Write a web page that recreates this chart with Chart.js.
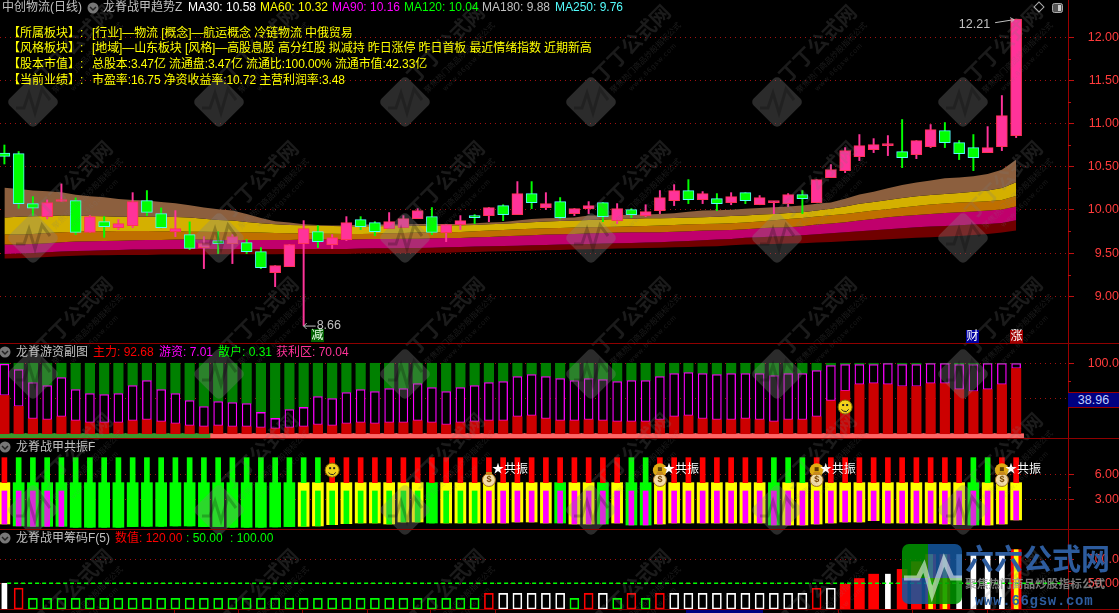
<!DOCTYPE html>
<html>
<head>
<meta charset="utf-8">
<title>中创物流(日线)</title>
<script src="https://cdn.jsdelivr.net/npm/chart.js@4/dist/chart.umd.js"></script>
<style>
html, body { margin: 0; background: #000; overflow: hidden; }
#stage { position: relative; width: 1119px; height: 613px; background: #000; overflow: hidden; }
#stage canvas, #stage svg { position: absolute; left: 0; }
.rotulo { position: absolute; white-space: nowrap; transform: translateY(-50%); font: 12px "Liberation Sans", "Noto Sans CJK SC", sans-serif; line-height: 14px; }
.raya { position: absolute; left: 0; width: 1119px; height: 1px; background: #8f0000; }
.caja { position: absolute; text-align: center; font: 12px "Liberation Sans", "Noto Sans CJK SC", sans-serif; }
</style>
</head>
<body>
<div id="stage">
  <canvas id="panelVelas" width="1119" height="343" style="top:0"></canvas>
  <canvas id="panelFlujos" width="1119" height="94" style="top:344px"></canvas>
  <canvas id="panelResonancia" width="1119" height="90" style="top:439px"></canvas>
  <canvas id="panelChips" width="1119" height="79" style="top:530px"></canvas>
</div>
<script>
// velas diarias
const candleOpen = [10.659,10.653,10.073,9.922,10.097,10.108,9.74,9.864,9.795,9.818,10.108,9.957,9.748,9.714,9.563,9.644,9.61,9.621,9.517,9.273,9.343,9.61,9.748,9.598,9.656,9.888,
  9.853,9.783,9.795,9.899,9.922,9.737,9.83,9.934,9.934,10.05,9.946,10.189,10.027,10.096,9.957,10.015,10.085,9.876,10.004,9.934,9.992,10.108,10.224,10.12,10.131,10.085,
  10.2,10.06,10.085,10.073,10.177,10.085,10.374,10.455,10.618,10.699,10.745,10.676,10.641,10.734,10.919,10.78,10.722,10.664,10.734,10.861];
const candleClose = [10.621,10.073,10.019,10.085,10.104,9.74,9.922,9.806,9.841,10.096,9.972,9.795,9.783,9.555,9.61,9.61,9.69,9.517,9.331,9.354,9.598,9.783,9.632,9.679,9.853,9.806,
  9.748,9.864,9.899,9.992,9.74,9.83,9.876,9.91,10.027,9.946,10.189,10.085,10.073,9.91,10.015,10.05,9.922,10.015,9.946,9.98,10.143,10.224,10.12,10.189,10.073,10.154,
  10.108,10.143,10.096,10.177,10.131,10.351,10.467,10.687,10.745,10.757,10.757,10.606,10.803,10.931,10.78,10.652,10.606,10.722,11.093,12.21];
const candleHigh = [10.752,10.676,10.154,10.116,10.301,10.139,9.934,9.922,9.888,10.2,10.224,10.023,9.992,9.861,9.69,9.748,9.714,9.656,9.563,9.354,9.598,9.876,9.818,9.714,9.922,9.922,
  9.864,9.969,9.934,10.015,10.027,9.83,9.934,9.946,10.027,10.06,10.328,10.328,10.2,10.143,10.015,10.096,10.085,10.073,10.015,10.06,10.224,10.293,10.351,10.212,10.189,10.2,
  10.2,10.166,10.096,10.189,10.224,10.351,10.525,10.722,10.873,10.826,10.861,11.047,10.803,10.989,11.012,10.803,10.873,10.965,11.325,12.21];
const candleLow = [10.532,10.019,9.934,9.896,10.097,9.714,9.74,9.682,9.772,9.795,9.934,9.791,9.69,9.54,9.32,9.494,9.378,9.494,9.32,9.111,9.343,8.66,9.563,9.552,9.644,9.772,
  9.702,9.783,9.795,9.899,9.714,9.632,9.772,9.841,9.864,9.876,9.946,10.015,10.004,9.899,9.934,9.957,9.864,9.841,9.91,9.922,9.957,10.05,10.073,10.073,9.992,10.06,
  10.073,10.06,9.957,10.038,9.957,10.085,10.374,10.432,10.571,10.664,10.629,10.49,10.594,10.722,10.722,10.583,10.455,10.664,10.687,10.838];

// cintas de medias moviles
const ma30 = [10.258,10.243,10.224,10.216,10.204,10.177,10.158,10.146,10.127,10.115,10.108,10.092,10.077,10.054,10.027,10.007,9.992,9.953,9.907,9.868,9.853,9.833,9.826,9.818,9.818,9.83,
  9.83,9.83,9.83,9.837,9.837,9.837,9.837,9.845,9.853,9.861,9.876,9.895,9.903,9.907,9.911,9.934,9.934,9.942,9.942,9.946,9.953,9.961,9.98,9.992,9.996,10.003,
  10.012,10.023,10.031,10.039,10.05,10.07,10.085,10.128,10.178,10.209,10.251,10.29,10.317,10.34,10.367,10.375,10.39,10.417,10.464,10.58];
const ma60 = [9.911,9.922,9.926,9.93,9.934,9.934,9.93,9.926,9.922,9.922,9.922,9.922,9.918,9.911,9.899,9.884,9.876,9.861,9.845,9.834,9.826,9.822,9.818,9.814,9.81,9.81,
  9.81,9.814,9.814,9.818,9.818,9.822,9.822,9.826,9.834,9.841,9.849,9.857,9.865,9.872,9.876,9.884,9.888,9.895,9.899,9.903,9.903,9.907,9.911,9.915,9.922,9.93,
  9.934,9.946,9.954,9.965,9.973,9.992,10.012,10.039,10.07,10.093,10.116,10.139,10.158,10.174,10.185,10.197,10.209,10.224,10.255,10.32];
const ma90 = [9.714,9.714,9.721,9.733,9.741,9.748,9.752,9.752,9.756,9.756,9.756,9.752,9.752,9.748,9.748,9.745,9.745,9.741,9.737,9.733,9.729,9.729,9.725,9.725,9.721,9.721,
  9.725,9.729,9.733,9.737,9.741,9.741,9.745,9.752,9.76,9.768,9.776,9.783,9.787,9.791,9.795,9.799,9.803,9.806,9.81,9.814,9.818,9.826,9.834,9.837,9.841,9.845,
  9.853,9.865,9.88,9.896,9.907,9.923,9.938,9.954,9.973,9.992,10.008,10.027,10.046,10.062,10.073,10.085,10.093,10.1,10.116,10.16];
const ma120 = [9.598,9.598,9.606,9.613,9.625,9.633,9.636,9.64,9.644,9.648,9.652,9.652,9.656,9.656,9.656,9.652,9.652,9.652,9.652,9.652,9.652,9.656,9.656,9.656,9.656,9.66,
  9.663,9.663,9.667,9.667,9.671,9.675,9.675,9.683,9.687,9.694,9.702,9.706,9.714,9.718,9.721,9.729,9.733,9.737,9.741,9.741,9.741,9.748,9.752,9.76,9.764,9.768,
  9.776,9.788,9.795,9.799,9.811,9.83,9.842,9.857,9.876,9.896,9.915,9.93,9.942,9.954,9.965,9.973,9.981,9.992,10.004,10.04];
const ma180 = [9.49,9.494,9.501,9.509,9.517,9.525,9.528,9.532,9.536,9.54,9.54,9.544,9.548,9.548,9.548,9.548,9.548,9.548,9.548,9.548,9.548,9.548,9.548,9.548,9.548,9.552,
  9.555,9.555,9.559,9.559,9.563,9.567,9.571,9.575,9.579,9.582,9.586,9.59,9.594,9.598,9.602,9.606,9.61,9.613,9.617,9.621,9.625,9.633,9.64,9.648,9.656,9.663,
  9.676,9.683,9.691,9.699,9.706,9.718,9.73,9.741,9.753,9.764,9.776,9.788,9.799,9.807,9.815,9.822,9.83,9.838,9.849,9.88];
const ma250 = [9.436,9.44,9.447,9.455,9.463,9.47,9.474,9.474,9.478,9.478,9.478,9.482,9.482,9.482,9.482,9.486,9.486,9.486,9.486,9.486,9.49,9.49,9.49,9.49,9.49,9.494,
  9.494,9.498,9.498,9.502,9.505,9.505,9.509,9.513,9.517,9.521,9.525,9.528,9.532,9.536,9.54,9.544,9.548,9.552,9.555,9.559,9.563,9.567,9.571,9.575,9.579,9.59,
  9.598,9.602,9.606,9.61,9.614,9.621,9.629,9.637,9.645,9.652,9.66,9.668,9.676,9.683,9.691,9.699,9.71,9.722,9.737,9.76];

// panel de flujos: 主力 / 游资 / 散户
const flowMain = [54.2,38.7,21.2,19.8,24.1,18.4,15.6,15.6,15.6,18.4,19.8,17,14.2,11.3,9.9,11.3,9.9,9.9,8.5,7.1,8.5,9.9,12.7,11.3,14.2,15.6,14.2,15.6,
  15.6,18.4,15.6,12.7,15.6,17,18.4,18.4,24.1,25.5,21.2,18.4,18.4,19.8,18.4,17,17,17,19.8,24.1,25.5,21.2,19.8,19.8,21.2,19.8,17,19.8,
  19.8,24.1,46.7,60.8,69.8,71.2,69.8,67,67,71.2,71.2,62.7,59.9,62.7,69.8,92.68];
const flowHot = [44.4,52.3,51.4,48.6,55.6,44.3,41.5,40.1,41.5,50,55.7,45.7,42.9,35.9,28.8,34.5,34.4,33,21.7,14.6,25.9,27.4,40.1,38.7,44.3,47.1,45.7,48.6,
  48.6,52.8,50,47.2,50,51.4,54.2,55.7,57,58.5,59.9,59.9,57.1,58.5,58.5,57.1,58.5,58.5,61.3,61.3,61.3,64.2,64.2,65.6,64.2,65.6,65.5,65.6,
  65.6,65.5,50,37.3,28.3,26.9,29.7,31.1,31.1,28.3,28.3,35.4,38.2,36.8,29.7,7.01];
const flowRetail = [1.4,9,27.4,31.6,20.3,37.3,42.9,44.3,42.9,31.6,24.5,37.3,42.9,52.8,61.3,54.2,55.7,57.1,69.8,78.3,65.6,62.7,47.2,50,41.5,37.3,40.1,35.8,
  35.8,28.8,34.4,40.1,34.4,31.6,27.4,25.9,18.9,16,18.9,21.7,24.5,21.7,23.1,25.9,24.5,24.5,18.9,14.6,13.2,14.6,16,14.6,14.6,14.6,17.5,14.6,
  14.6,10.4,3.3,1.9,1.9,1.9,0.5,1.9,1.9,0.5,0.5,1.9,1.9,0.5,0.5,0.31];
const profitZone = ('g'.repeat(15) + 'r'.repeat(57)).split('');
const profitZoneRange = [-6.1, 0];

// panel de resonancia
const resonanceFloor = [0.035,-0.2,-0.25,-0.25,-0.25,-0.36,-0.36,-0.36,-0.36,-0.28,-0.25,-0.25,-0.2,-0.2,-0.28,-0.28,-0.36,-0.36,-0.36,-0.32,-0.28,-0.25,-0.2,-0.045,0.075,0.155,0.155,0.035,
  0.275,0.275,0.155,0.155,0.155,0.155,0.155,0.155,0.275,0.275,0.155,0.155,0.035,0.035,0.035,0.155,-0.085,-0.085,0.035,0.155,0.155,0.155,0.155,0.155,0.155,0.155,-0.085,-0.085,
  -0.085,0.035,0.155,0.275,0.275,0.44,0.155,0.155,0.155,0.155,0.035,-0.045,-0.085,-0.085,0.035,0.52];
const resonanceTop = ('r' + 'g'.repeat(22) + 'r'.repeat(21) + 'gg' + 'r'.repeat(8) + 'ggg' + 'r'.repeat(11) + 'gg' + 'rr').split('');
const resonanceOuter = ('y' + 'g'.repeat(20) + 'y'.repeat(9) + 'g' + 'y'.repeat(8) + 'g' + 'yy' + 'g' + 'y' + 'gg' + 'y'.repeat(8) + 'g' + 'y'.repeat(13) + 'g' + 'yyy').split('');
const resonanceInner = ('m'.repeat(5) + 'g'.repeat(29) + 'm'.repeat(38)).split('');
const resonanceLevels = [8, 5, 4];

// panel de chips
const chipValues = [50,40,
  18.5,18.5,18.5,18.5,18.5,18.5,18.5,18.5,
  18.5,18.5,18.5,18.5,18.5,18.5,18.5,18.5,
  18.5,18.5,18.5,18.5,18.5,18.5,18.5,18.5,
  18.5,18.5,18.5,18.5,18.5,18.5,18.5,18.5,
  29,29,29,29,29,29,18.5,29,29,18.5,29,18.5,29,29,29,29,29,29,29,29,29,29,29,39.6,39.6,48,60,69,69,79,95,110,110,110,110,110,110,120];
const chipKinds = ('wr' + 'g'.repeat(32) + 'rhhhhhgrhgrgr' + 'h'.repeat(10) + 'rh' + 'RRRwRRYYwwwwY').split('');
const chipBase = -3.54;
const chipRefLevel = [50];

// marcas
const highMark = { bar: 71, price: 12.21 };
const lowMark = { bar: 21, price: 8.66 };
const flowSmile = { bar: 59, value: 37.9 };
const resonanceSmile = { bar: 23, value: 6.5 };
const bagBars = [34, 46, 57, 70];
const coinBars = [46, 57, 70];
const bagLevel = 5.44;
const coinLevel = 6.5;
const starLevel = 6.67;

// ejes
const priceTicks = [12, 11.5, 11, 10.5, 10, 9.5, 9];
const priceMinor = [11.75, 11.25, 10.75, 10.25, 9.75, 9.25];
const flowTicks = [100, 50];
const flowMinor = [75];
const resonanceTicks = [6, 3];
const resonanceMinor = [4.5];
const chipTicks = [100, 50];
const chipMinor = [75];

const barIndex = candleOpen.map((_, i) => i);
const xMin = -0.309;
const xMax = 74.64;

const ROJO_LINEA = '#9a0000';
const ROJO_TEXTO = '#ff3b3b';
const TEXTO_GRIS = '#c0c0c0';

const marcasMenores = {
    id: 'marcasMenores',
    afterDraw(chart, args, opts) {
        const ctx = chart.ctx;
        const y = chart.scales.y;
        ctx.save();
        ctx.strokeStyle = '#c01010';
        opts.values.forEach(v => {
            const py = Math.round(y.getPixelForValue(v)) + 0.5;
            ctx.beginPath();
            ctx.moveTo(y.left, py);
            ctx.lineTo(y.left + 3, py);
            ctx.stroke();
        });
        ctx.restore();
    }
};

function opcionesPanel(min, max, ticks, minor, etiqueta, relleno) {
    return {
        responsive: false,
        animation: false,
        layout: { padding: 0 },
        plugins: { legend: { display: false }, tooltip: { enabled: false }, marcasMenores: { values: minor } },
        scales: {
            x: { type: 'linear', display: false, offset: false, min: xMin, max: xMax, grid: { display: false } },
            y: {
                position: 'right',
                min: min,
                max: max,
                afterBuildTicks: s => { s.ticks = ticks.map(value => ({ value })); },
                afterFit: s => { s.width = 51; s.paddingTop = 0; s.paddingBottom = 0; },
                border: { color: ROJO_LINEA, dash: [1, 4] },
                grid: { color: '#a01010', tickColor: '#c01010', tickLength: 6, tickBorderDash: [] },
                ticks: {
                    color: ROJO_TEXTO,
                    padding: relleno,
                    crossAlign: 'far',
                    autoSkip: false,
                    font: { family: '"Liberation Sans", sans-serif', size: 12.5 },
                    callback: etiqueta
                }
            }
        }
    };
}

// ---- panel 1: velas y cintas
function pintarCara(ctx, x, y, r) {
    ctx.save();
    ctx.fillStyle = '#f2d21b';
    ctx.beginPath(); ctx.arc(x, y, r, 0, Math.PI * 2); ctx.fill();
    ctx.strokeStyle = '#8a6a00';
    ctx.stroke();
    ctx.fillStyle = '#222';
    ctx.fillRect(x - 3, y - 3, 2, 2);
    ctx.fillRect(x + 1, y - 3, 2, 2);
    ctx.strokeStyle = '#222';
    ctx.beginPath(); ctx.arc(x, y + 0.5, 4, 0.15 * Math.PI, 0.85 * Math.PI); ctx.stroke();
    ctx.restore();
}

const marcasVelas = {
    id: 'marcasVelas',
    afterDatasetsDraw(chart) {
        const { ctx, scales: { x, y } } = chart;
        ctx.save();
        ctx.font = '12.5px "Liberation Sans", sans-serif';
        ctx.fillStyle = TEXTO_GRIS;
        ctx.strokeStyle = TEXTO_GRIS;
        ctx.textBaseline = 'middle';
        const hx = x.getPixelForValue(highMark.bar), hy = y.getPixelForValue(highMark.price);
        ctx.textAlign = 'right';
        ctx.fillText(highMark.price.toFixed(2), hx - 26, hy + 5);
        ctx.beginPath();
        ctx.moveTo(hx - 21, hy + 3.5); ctx.lineTo(hx - 2, hy + 0.5);
        ctx.moveTo(hx - 2, hy + 0.5); ctx.lineTo(hx - 6, hy - 1.5);
        ctx.moveTo(hx - 2, hy + 0.5); ctx.lineTo(hx - 5, hy + 3);
        ctx.stroke();
        const lx = x.getPixelForValue(lowMark.bar), ly = y.getPixelForValue(lowMark.price);
        ctx.textAlign = 'left';
        ctx.fillText(lowMark.price.toFixed(2), lx + 13, ly);
        ctx.beginPath();
        ctx.moveTo(lx + 12, ly + 0.5); ctx.lineTo(lx, ly + 0.5);
        ctx.moveTo(lx, ly + 0.5); ctx.lineTo(lx + 3, ly - 2.5);
        ctx.moveTo(lx, ly + 0.5); ctx.lineTo(lx + 3, ly + 3.5);
        ctx.stroke();
        ctx.restore();
    }
};

const cinta = (label, data, color) => ({
    type: 'line', label, data, order: 10, pointRadius: 0, borderWidth: 0, tension: 0,
    backgroundColor: color, fill: color ? '+1' : false
});

new Chart(document.getElementById('panelVelas').getContext('2d'), {
    type: 'bar',
    data: {
        labels: barIndex,
        datasets: [
            cinta('MA30', ma30, '#8c5f3e'),
            cinta('MA60', ma60, '#d4b000'),
            cinta('MA90', ma90, '#bf6f00'),
            cinta('MA120', ma120, '#c0006c'),
            cinta('MA180', ma180, '#700000'),
            cinta('MA250', ma250, null),
            {
                label: 'sombra', order: 2, grouped: false, barThickness: 1.3,
                data: barIndex.map(i => [candleLow[i], candleHigh[i]]),
                backgroundColor: barIndex.map(i => candleClose[i] >= candleOpen[i] ? '#ff3399' : '#00ff00')
            },
            {
                label: 'cuerpo', order: 1, grouped: false, barThickness: 11, minBarLength: 2, borderWidth: 1, borderSkipped: false,
                data: barIndex.map(i => [candleOpen[i], candleClose[i]]),
                backgroundColor: barIndex.map(i => candleClose[i] >= candleOpen[i] ? '#ff3399' : '#00ff00'),
                borderColor: barIndex.map(i => candleClose[i] >= candleOpen[i] ? '#ff3355' : '#54fcfc')
            }
        ]
    },
    options: opcionesPanel(8.458, 12.432, priceTicks, priceMinor, v => v.toFixed(2), 8),
    plugins: [marcasMenores, marcasVelas]
});

// ---- panel 2: flujos
const carasFlujos = {
    id: 'carasFlujos',
    afterDatasetsDraw(chart) {
        const { ctx, scales: { x, y } } = chart;
        pintarCara(ctx, x.getPixelForValue(flowSmile.bar), y.getPixelForValue(flowSmile.value), 7);
    }
};

new Chart(document.getElementById('panelFlujos').getContext('2d'), {
    type: 'bar',
    data: {
        labels: barIndex,
        datasets: [
            { label: '主力', stack: 'flujo', grouped: false, barThickness: 9.5, data: flowMain, backgroundColor: '#cc0000' },
            {
                label: '游资', stack: 'flujo', grouped: false, barThickness: 9, data: flowHot,
                backgroundColor: '#000', borderColor: '#ff00ff', borderWidth: 1.3, borderSkipped: false
            },
            { label: '散户', stack: 'flujo', grouped: false, barThickness: 9.5, data: flowRetail, backgroundColor: '#008000' },
            {
                label: '获利区', stack: 'zona', grouped: false, barThickness: 15,
                data: barIndex.map(() => profitZoneRange),
                backgroundColor: profitZone.map(z => z === 'g' ? '#3c9a2c' : '#ff6666')
            }
        ]
    },
    options: (() => {
        const o = opcionesPanel(-6.1, 127.4, flowTicks, flowMinor, v => v === 100 ? '100.0' : '', 8);
        o.scales.y.stacked = true;
        return o;
    })(),
    plugins: [marcasMenores, carasFlujos]
});

// ---- panel 3: resonancia
const colorResonancia = { r: '#ff0000', g: '#00ff00', y: '#ffff00', m: '#ff00ff' };

const iconosResonancia = {
    id: 'iconosResonancia',
    afterDatasetsDraw(chart) {
        const { ctx, scales: { x, y } } = chart;
        pintarCara(ctx, x.getPixelForValue(resonanceSmile.bar), y.getPixelForValue(resonanceSmile.value), 7);
        ctx.save();
        coinBars.forEach(b => {
            ctx.fillStyle = '#e0ab12';
            ctx.beginPath();
            ctx.arc(x.getPixelForValue(b), y.getPixelForValue(coinLevel), 7, 0, Math.PI * 2);
            ctx.fill();
            ctx.fillStyle = '#5c3d00';
            ctx.fillRect(x.getPixelForValue(b) - 2, y.getPixelForValue(coinLevel) - 3, 4, 4);
        });
        bagBars.forEach(b => {
            const px = x.getPixelForValue(b), py = y.getPixelForValue(bagLevel);
            ctx.fillStyle = '#f3dca8';
            ctx.strokeStyle = '#a8701a';
            ctx.beginPath(); ctx.arc(px, py + 1, 6.5, 0, Math.PI * 2); ctx.fill(); ctx.stroke();
            ctx.fillStyle = '#c98a1e';
            ctx.fillRect(px - 3, py - 7, 6, 3);
            ctx.fillStyle = '#7a4a00';
            ctx.font = 'bold 9px "Liberation Sans", sans-serif';
            ctx.textAlign = 'center';
            ctx.textBaseline = 'middle';
            ctx.fillText('$', px, py + 1);
            ctx.fillStyle = '#fff';
            ctx.font = '12px "Noto Sans CJK SC", sans-serif';
            ctx.textAlign = 'left';
            ctx.fillText('★共振', px + 3, y.getPixelForValue(starLevel));
        });
        ctx.restore();
    }
};

new Chart(document.getElementById('panelResonancia').getContext('2d'), {
    type: 'bar',
    data: {
        labels: barIndex,
        datasets: [
            {
                label: 'señal', grouped: false, barThickness: 5,
                data: barIndex.map(() => [resonanceLevels[1], resonanceLevels[0]]),
                backgroundColor: resonanceTop.map(c => colorResonancia[c])
            },
            {
                label: 'interior', grouped: false, barThickness: 5, order: 1,
                data: resonanceFloor.map(v => [v, resonanceLevels[2]]),
                backgroundColor: resonanceInner.map(c => colorResonancia[c])
            },
            {
                label: 'exterior', grouped: false, barThickness: 11, order: 2,
                data: resonanceFloor.map(v => [v, resonanceLevels[1]]),
                backgroundColor: resonanceOuter.map(c => colorResonancia[c])
            }
        ]
    },
    options: opcionesPanel(-0.565, 10.24, resonanceTicks, resonanceMinor, v => v.toFixed(2), 15),
    plugins: [marcasMenores, iconosResonancia]
});

// ---- panel 4: chips
const colorChip = { r: '#ff0000', g: '#00ff00', h: '#ffffff' };

new Chart(document.getElementById('panelChips').getContext('2d'), {
    type: 'bar',
    data: {
        labels: barIndex,
        datasets: [
            {
                type: 'line', label: 'ref', order: 0, pointRadius: 0, borderWidth: 1.4, borderColor: '#00ff00', borderDash: [4, 3],
                data: [{ x: xMin + 0.5, y: chipRefLevel[0] }, { x: xMax - 0.5, y: chipRefLevel[0] }]
            },
            {
                label: 'nucleo', order: 1, grouped: false, barThickness: 4,
                data: chipValues.map((v, i) => chipKinds[i] === 'Y' ? [chipBase, v] : null),
                backgroundColor: '#ffff00'
            },
            {
                label: 'blanca', order: 2, grouped: false, barThickness: 5,
                data: chipValues.map((v, i) => chipKinds[i] === 'w' ? [chipBase, v] : null),
                backgroundColor: '#ffffff'
            },
            {
                label: 'roja', order: 3, grouped: false, barThickness: 10,
                data: chipValues.map((v, i) => 'RY'.includes(chipKinds[i]) ? [chipBase, v] : null),
                backgroundColor: '#ff0000'
            },
            {
                label: 'hueca', order: 4, grouped: false, barThickness: 9, borderWidth: 1, borderSkipped: false,
                data: chipValues.map((v, i) => 'rgh'.includes(chipKinds[i]) ? [chipBase, v] : null),
                backgroundColor: 'rgba(0,0,0,0)',
                borderColor: chipKinds.map(k => colorChip[k] || '#fff')
            }
        ]
    },
    options: opcionesPanel(chipBase, 161, chipTicks, chipMinor, v => v === 100 ? '100.0' : '50.00', 8),
    plugins: [marcasMenores]
});

// ---- marca de agua, logo y adornos (encima de todo)
const stage = document.getElementById('stage');
const columnasAgua = [33, 219, 405, 591, 777, 963];
const filasAgua = [-34, 102, 238, 374, 510, 646];
let svg = '';
filasAgua.forEach(fy => columnasAgua.forEach(fx => {
    svg += `<g transform="translate(${fx},${fy})">
      <rect x="-19" y="-19" width="38" height="38" rx="5" transform="rotate(45)" fill="rgba(135,135,135,0.32)"/>
      <polyline points="-17,6 -9,6 -4,-9 2,11 9,-13 17,-2" fill="none" stroke="rgba(0,0,0,0.22)" stroke-width="3"/>
      <text transform="translate(42,-57) rotate(-45)" text-anchor="middle" dominant-baseline="middle" font-family="Noto Sans CJK SC" font-weight="700" font-size="20" fill="rgba(125,125,125,0.22)">丁丁公式网</text>
      <text transform="translate(55,-44) rotate(-45)" text-anchor="middle" dominant-baseline="middle" font-family="Noto Sans CJK SC" font-size="8" fill="rgba(125,125,125,0.22)">聚焦热门商品炒股指标公式</text>
      <text transform="translate(62,-35) rotate(-45)" text-anchor="middle" dominant-baseline="middle" font-family="Liberation Sans" font-size="7" letter-spacing="1" fill="rgba(125,125,125,0.2)">www.66gsw.com</text>
    </g>`;
}));

const flechita = (x, y) => `<circle cx="${x}" cy="${y}" r="5.5" fill="#777"/><polyline points="${x - 3},${y - 1} ${x},${y + 2} ${x + 3},${y - 1}" fill="none" stroke="#222" stroke-width="1.5"/>`;
svg += [[93, 8], [5, 352], [5, 447], [5, 538]].map(p => flechita(p[0], p[1])).join('');
svg += `<rect x="1035.5" y="3.5" width="7" height="7" transform="rotate(45 1039 7)" fill="none" stroke="#aaa"/>
  <rect x="1052.5" y="3.5" width="10" height="9" rx="2" fill="#555" stroke="#aaa"/><rect x="1058" y="5" width="3" height="6" fill="#ccc"/>`;

// logo de la esquina: cuatro cuadrantes
svg += `<clipPath id="recorteLogo"><rect x="902" y="544" width="60" height="60" rx="7"/></clipPath>
  <g clip-path="url(#recorteLogo)" opacity="0.85">
    <rect x="902" y="544" width="26" height="34" fill="#009600"/>
    <rect x="928" y="544" width="34" height="34" fill="#14589f"/>
    <rect x="902" y="578" width="26" height="26" fill="#14589f"/>
    <rect x="928" y="578" width="34" height="26" fill="#009600"/>
  </g>
  <polyline points="904,578 918,578 924,566 932,594 944,560 952,578 962,578" fill="none" stroke="rgba(255,255,255,0.55)" stroke-width="5"/>
  <text x="965" y="570" font-family="Noto Sans CJK SC" font-weight="700" font-size="29" fill="#2d5c9e">六六公式网</text>
  <text x="965" y="588" font-family="Noto Sans CJK SC" font-weight="700" font-size="11.7" fill="rgba(150,150,150,0.8)">聚焦热门商品炒股指标公式</text>
  <text x="975" y="605" font-family="Liberation Mono" font-weight="700" font-size="14" letter-spacing="0.7" fill="#2d5c9e">www.66gsw.com</text>`;

// marcas del eje de fechas
const marcasFecha = [174, 238, 302, 367, 430, 495, 838, 912, 987];
svg += marcasFecha.map(x => `<line x1="${x + 0.5}" x2="${x + 0.5}" y1="609" y2="613" stroke="#9a0000"/>`).join('');
svg += '<rect x="686" y="610" width="77" height="3" fill="#000080"/>';

stage.insertAdjacentHTML('beforeend', `<svg width="1119" height="613" style="top:0">${svg}</svg>`);

[343, 438, 529, 609].forEach(y => stage.insertAdjacentHTML('beforeend', `<div class="raya" style="top:${y}px"></div>`));
stage.insertAdjacentHTML('beforeend', '<div class="caja" style="left:1068px;top:392px;width:51px;height:14px;line-height:14px;background:#000080;color:#c0d0ff;border-top:1px solid #9a0000;border-bottom:1px solid #9a0000;font-size:12.5px">38.96</div>');

const AM = '#ffff00';
const rotulos = [
    ['中创物流(日线)', 2, 7, TEXTO_GRIS], ['龙脊战甲趋势Z', 103, 7, TEXTO_GRIS],
    ['MA30: 10.58', 188, 7, '#ffffff'], ['MA60: 10.32', 260, 7, '#ffff00'], ['MA90: 10.16', 332, 7, '#ff00ff'],
    ['MA120: 10.04', 404, 7, '#00ff00'], ['MA180: 9.88', 482, 7, TEXTO_GRIS], ['MA250: 9.76', 555, 7, '#54fcfc'],
    ['【所属板块】:', 8, 33, AM], ['[行业]—物流 [概念]—航运概念 冷链物流 中俄贸易', 92, 33, AM],
    ['【风格板块】:', 8, 48, AM], ['[地域]—山东板块 [风格]—高股息股 高分红股 拟减持 昨日涨停 昨日首板 最近情绪指数 近期新高', 92, 48, AM],
    ['【股本市值】:', 8, 64, AM], ['总股本:3.47亿 流通盘:3.47亿 流通比:100.00% 流通市值:42.33亿', 92, 64, AM],
    ['【当前业绩】:', 8, 80, AM], ['市盈率:16.75 净资收益率:10.72 主营利润率:3.48', 92, 80, AM],
    ['龙脊游资副图', 16, 352, TEXTO_GRIS], ['主力: 92.68', 93, 352, '#ff0000'], ['游资: 7.01', 159, 352, '#ff00ff'],
    ['散户: 0.31', 218, 352, '#00ff00'], ['获利区: 70.04', 276, 352, '#ff3399'],
    ['龙脊战甲共振F', 16, 447, TEXTO_GRIS],
    ['龙脊战甲筹码F(5)', 16, 538, TEXTO_GRIS], ['数值: 120.00', 115, 538, '#ff0000'], [': 50.00', 186, 538, '#00ff00'], [': 100.00', 230, 538, '#00ff00']
];
rotulos.forEach(r => {
    const s = document.createElement('span');
    s.className = 'rotulo';
    s.textContent = r[0];
    s.style.left = r[1] + 'px';
    s.style.top = r[2] + 'px';
    s.style.color = r[3];
    if (r[1] === 92) s.style.letterSpacing = '-0.1px';
    stage.appendChild(s);
});

const insignias = [['减', 311, 329, '#006000', '#e8ffe8'], ['财', 966, 330, '#0000a0', '#ffffff'], ['涨', 1010, 330, '#a00000', '#ffffff']];
insignias.forEach(b => {
    stage.insertAdjacentHTML('beforeend', `<div class="caja" style="left:${b[1]}px;top:${b[2]}px;width:13px;height:13px;line-height:13px;background:${b[3]};color:${b[4]}">${b[0]}</div>`);
});
</script>
</body>
</html>
